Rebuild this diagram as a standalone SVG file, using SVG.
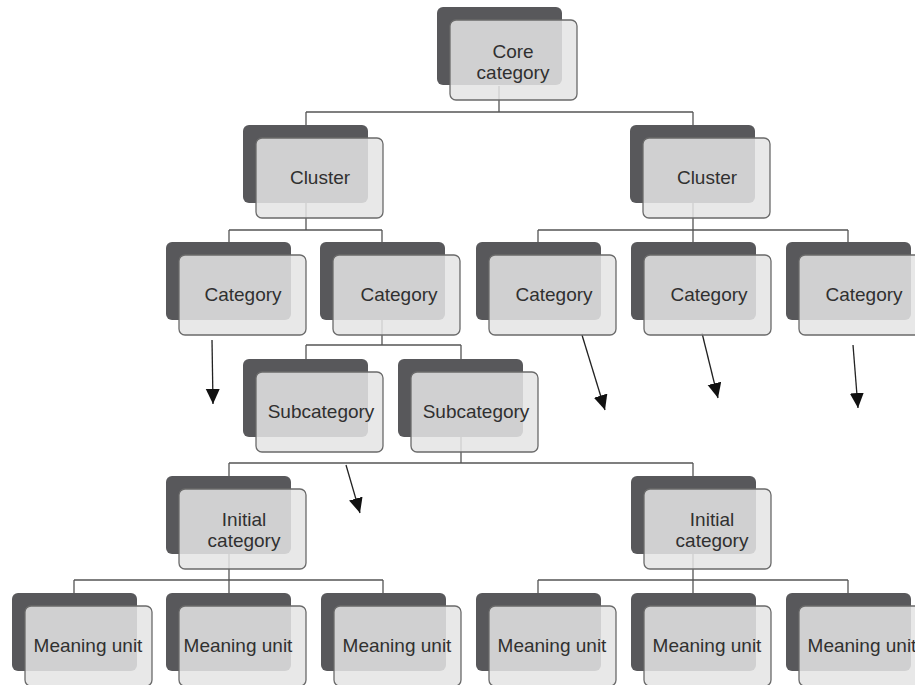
<svg xmlns="http://www.w3.org/2000/svg" width="915" height="685" viewBox="0 0 915 685">
<defs>
<style>
.bg{fill:#ffffff}
.dk{fill:#58585b}
.lt{fill:#e4e4e4;fill-opacity:0.86;stroke:#6a6a6a;stroke-width:1.3}
.ln{stroke:#555;stroke-width:1.3;fill:none}
.ar{stroke:#222;stroke-width:1.3;fill:none;marker-end:url(#ah)}
text{font-family:"Liberation Sans",Arial,sans-serif;font-size:19px;fill:#303030;text-anchor:middle}
</style>
<marker id="ah" markerUnits="userSpaceOnUse" markerWidth="16" markerHeight="15" refX="15" refY="7" orient="auto">
<path d="M0,0 L15,7 L0,14 z" fill="#111"/>
</marker>
</defs>
<rect class="bg" x="0" y="0" width="915" height="685"/>
<g id="connectors">
<path class="ln" d="M499,86 V112 M306,112 H693 M306,112 V125 M693,112 V125"/>
<path class="ln" d="M306,203 V230 M229,230 H382 M229,230 V242 M382,230 V242"/>
<path class="ln" d="M693,203 V230 M538,230 H848 M538,230 V242 M693,230 V242 M848,230 V242"/>
<path class="ln" d="M382,320 V345 M306,345 H461 M306,345 V359 M461,345 V359"/>
<path class="ln" d="M461,437 V463 M229,463 H693 M229,463 V476 M693,463 V476"/>
<path class="ln" d="M229,554 V580 M74,580 H383 M74,580 V593 M229,580 V593 M383,580 V593"/>
<path class="ln" d="M693,554 V580 M538,580 H848 M538,580 V593 M693,580 V593 M848,580 V593"/>
<line class="ar" x1="212" y1="340" x2="213" y2="404"/>
<line class="ar" x1="582" y1="335" x2="605" y2="410"/>
<line class="ar" x1="702" y1="333" x2="718" y2="398"/>
<line class="ar" x1="853" y1="345" x2="858" y2="408"/>
<line class="ar" x1="346" y1="465" x2="360" y2="513"/>
</g>
<g id="core"><rect class="dk" x="437" y="7" width="125" height="78" rx="6"/><rect class="lt" x="450" y="20" width="127" height="80" rx="6"/><text x="513" y="58">Core</text><text x="513" y="79">category</text></g>
<g id="cluster1"><rect class="dk" x="243" y="125" width="125" height="78" rx="6"/><rect class="lt" x="256" y="138" width="127" height="80" rx="6"/><text x="320" y="184">Cluster</text></g>
<g id="cluster2"><rect class="dk" x="630" y="125" width="125" height="78" rx="6"/><rect class="lt" x="643" y="138" width="127" height="80" rx="6"/><text x="707" y="184">Cluster</text></g>
<g id="cat1"><rect class="dk" x="166" y="242" width="125" height="78" rx="6"/><rect class="lt" x="179" y="255" width="127" height="80" rx="6"/><text x="243" y="301">Category</text></g>
<g id="cat2"><rect class="dk" x="320" y="242" width="125" height="78" rx="6"/><rect class="lt" x="333" y="255" width="127" height="80" rx="6"/><text x="399" y="301">Category</text></g>
<g id="cat3"><rect class="dk" x="476" y="242" width="125" height="78" rx="6"/><rect class="lt" x="489" y="255" width="127" height="80" rx="6"/><text x="554" y="301">Category</text></g>
<g id="cat4"><rect class="dk" x="631" y="242" width="125" height="78" rx="6"/><rect class="lt" x="644" y="255" width="127" height="80" rx="6"/><text x="709" y="301">Category</text></g>
<g id="cat5"><rect class="dk" x="786" y="242" width="125" height="78" rx="6"/><rect class="lt" x="799" y="255" width="127" height="80" rx="6"/><text x="864" y="301">Category</text></g>
<g id="sub1"><rect class="dk" x="243" y="359" width="125" height="78" rx="6"/><rect class="lt" x="256" y="372" width="127" height="80" rx="6"/><text x="321" y="418">Subcategory</text></g>
<g id="sub2"><rect class="dk" x="398" y="359" width="125" height="78" rx="6"/><rect class="lt" x="411" y="372" width="127" height="80" rx="6"/><text x="476" y="418">Subcategory</text></g>
<g id="init1"><rect class="dk" x="166" y="476" width="125" height="78" rx="6"/><rect class="lt" x="179" y="489" width="127" height="80" rx="6"/><text x="244" y="526">Initial</text><text x="244" y="547">category</text></g>
<g id="init2"><rect class="dk" x="631" y="476" width="125" height="78" rx="6"/><rect class="lt" x="644" y="489" width="127" height="80" rx="6"/><text x="712" y="526">Initial</text><text x="712" y="547">category</text></g>
<g id="mu1"><rect class="dk" x="12" y="593" width="125" height="78" rx="6"/><rect class="lt" x="25" y="606" width="127" height="80" rx="6"/><text x="88" y="652">Meaning unit</text></g>
<g id="mu2"><rect class="dk" x="166" y="593" width="125" height="78" rx="6"/><rect class="lt" x="179" y="606" width="127" height="80" rx="6"/><text x="238" y="652">Meaning unit</text></g>
<g id="mu3"><rect class="dk" x="321" y="593" width="125" height="78" rx="6"/><rect class="lt" x="334" y="606" width="127" height="80" rx="6"/><text x="397" y="652">Meaning unit</text></g>
<g id="mu4"><rect class="dk" x="476" y="593" width="125" height="78" rx="6"/><rect class="lt" x="489" y="606" width="127" height="80" rx="6"/><text x="552" y="652">Meaning unit</text></g>
<g id="mu5"><rect class="dk" x="631" y="593" width="125" height="78" rx="6"/><rect class="lt" x="644" y="606" width="127" height="80" rx="6"/><text x="707" y="652">Meaning unit</text></g>
<g id="mu6"><rect class="dk" x="786" y="593" width="125" height="78" rx="6"/><rect class="lt" x="799" y="606" width="127" height="80" rx="6"/><text x="862" y="652">Meaning unit</text></g>
</svg>
